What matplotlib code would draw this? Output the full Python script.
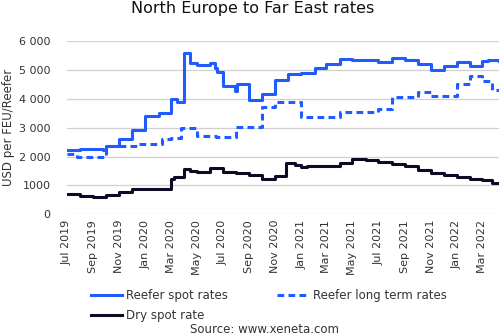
import matplotlib
matplotlib.use("Agg")
import matplotlib.pyplot as plt
import matplotlib.dates as mdates
import pandas as pd

# Reefer spot rates (step changes)
spot_dates = ["2019-07-01", "2019-08-01", "2019-09-24", "2019-10-01", "2019-11-01",
              "2019-12-01", "2020-01-01", "2020-02-01", "2020-03-01", "2020-03-15",
              "2020-04-01", "2020-04-15", "2020-05-01", "2020-06-01", "2020-06-12",
              "2020-06-18", "2020-07-01", "2020-07-29", "2020-08-03", "2020-09-01",
              "2020-10-01", "2020-11-01", "2020-12-01", "2021-01-01", "2021-02-01",
              "2021-03-01", "2021-04-01", "2021-05-01", "2021-06-01", "2021-07-01",
              "2021-08-01", "2021-09-01", "2021-10-01", "2021-11-01", "2021-12-01",
              "2022-01-01", "2022-02-01", "2022-03-01", "2022-03-15", "2022-04-10"]
spot_values = [2230, 2270, 2230, 2350, 2600,
               2930, 3390, 3500, 3990, 3870,
               5590, 5220, 5170, 5230, 5070,
               4930, 4440, 4250, 4520, 3970,
               4150, 4660, 4870, 4900, 5050,
               5200, 5390, 5330, 5330, 5280,
               5400, 5350, 5205, 5010, 5140,
               5260, 5130, 5300, 5340, 5320]

# Reefer long term rates
lt_dates = ["2019-07-01", "2019-07-25", "2019-10-01", "2019-11-01", "2019-12-15",
            "2020-02-10", "2020-03-01", "2020-03-25", "2020-05-01", "2020-06-15",
            "2020-08-01", "2020-09-30", "2020-11-01", "2021-01-01", "2021-04-01",
            "2021-07-01", "2021-08-01", "2021-10-01", "2021-11-01", "2022-01-01",
            "2022-02-01", "2022-03-01", "2022-03-25", "2022-04-10"]
lt_values = [2080, 2000, 2350, 2380, 2430,
             2600, 2640, 2980, 2720, 2660,
             3010, 3720, 3870, 3370, 3540,
             3650, 4070, 4220, 4080, 4500,
             4800, 4600, 4310, 4310]

# Dry spot rate
dry_dates = ["2019-07-01", "2019-08-01", "2019-09-01", "2019-10-01", "2019-11-01",
             "2019-12-01", "2020-02-01", "2020-03-01", "2020-03-08", "2020-04-01",
             "2020-04-15", "2020-05-01", "2020-06-01", "2020-07-01", "2020-08-01",
             "2020-09-01", "2020-10-01", "2020-11-01", "2020-11-27", "2020-12-17",
             "2021-01-01", "2021-01-15", "2021-02-01", "2021-04-01", "2021-05-01",
             "2021-06-01", "2021-07-01", "2021-08-01", "2021-09-01", "2021-10-01",
             "2021-11-01", "2021-12-01", "2022-01-01", "2022-02-01", "2022-03-01",
             "2022-03-24", "2022-04-10"]
dry_values = [690, 650, 615, 660, 780,
              870, 890, 1240, 1300, 1570,
              1510, 1470, 1590, 1480, 1430,
              1350, 1240, 1320, 1760, 1720,
              1650, 1690, 1675, 1780, 1910,
              1880, 1815, 1740, 1665, 1525,
              1445, 1365, 1285, 1220, 1180,
              1080, 1080]

y_ticks = [0, 1000, 2000, 3000, 4000, 5000, 6000]
y_tick_labels = ["0", "1000", "2 000", "3 000", "4 000", "5 000", "6 000"]
x_tick_dates = ["2019-07-01", "2019-09-01", "2019-11-01", "2020-01-01", "2020-03-01",
                "2020-05-01", "2020-07-01", "2020-09-01", "2020-11-01", "2021-01-01",
                "2021-03-01", "2021-05-01", "2021-07-01", "2021-09-01", "2021-11-01",
                "2022-01-01", "2022-03-01"]

plt.rcParams['font.family'] = ['DejaVu Sans']
BLUE = "#1f5bff"
DARK = "#0b0b25"
TXT = "#333333"

fig = plt.figure(figsize=(5, 3.35), dpi=100)
ax = fig.add_axes([0.134, 0.360, 0.864, 0.518])

h_spot, = ax.plot(pd.to_datetime(spot_dates), spot_values, drawstyle="steps-post",
                  color=BLUE, lw=2.2, label="Reefer spot rates")
h_lt, = ax.plot(pd.to_datetime(lt_dates), lt_values, drawstyle="steps-post",
                color=BLUE, lw=2.2, ls=(0, (2.2, 1.4)), label="Reefer long term rates")
h_dry, = ax.plot(pd.to_datetime(dry_dates), dry_values, drawstyle="steps-post",
                 color=DARK, lw=2.2, label="Dry spot rate")

ax.set_ylim(0, 6000)
ax.set_xlim(pd.Timestamp("2019-07-01"), pd.Timestamp("2022-04-10"))
ax.set_yticks(y_ticks)
ax.set_yticklabels(y_tick_labels)
ax.set_xticks(pd.to_datetime(x_tick_dates))
ax.xaxis.set_major_formatter(mdates.DateFormatter("%b %Y"))
for lab in ax.get_xticklabels():
    lab.set_rotation(90)
ax.tick_params(axis="both", length=0, labelsize=8, colors=TXT, pad=12)
ax.tick_params(axis="x", pad=4)
ax.grid(axis="y", color="#d0d0d0", lw=0.9)
ax.set_axisbelow(True)
for s in ax.spines.values():
    s.set_visible(False)

ax.set_ylabel("USD per FEU/Reefer", fontsize=8.5, color=TXT, labelpad=3)
fig.text(0.505, 0.998, "North Europe to Far East rates", ha="center", va="top",
         fontsize=11.5, color="#111111")

leg = fig.legend([h_spot, h_dry, h_lt],
                 ["Reefer spot rates", "Dry spot rate", "Reefer long term rates"],
                 loc="upper left", bbox_to_anchor=(0.181, 0.136), ncol=2,
                 frameon=False, fontsize=8.5, handlelength=2.7, handletextpad=0.3,
                 columnspacing=4.2, labelspacing=0.55, borderaxespad=0,
                 borderpad=0)
for t in leg.get_texts():
    t.set_color(TXT)
fig.text(0.53, -0.004, "Source: www.xeneta.com", ha="center", va="bottom",
         fontsize=8.5, color=TXT)

fig.savefig("out.png", dpi=100)
